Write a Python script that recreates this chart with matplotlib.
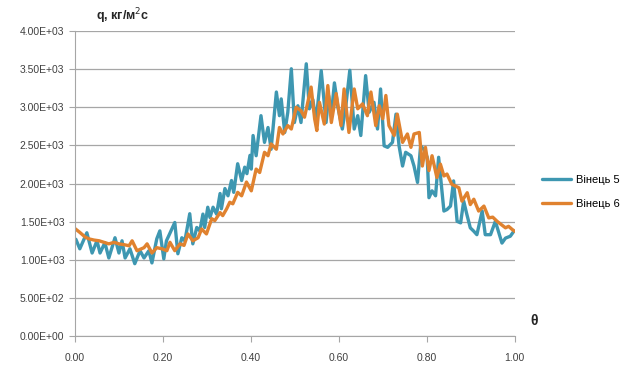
import matplotlib
matplotlib.use("Agg")
import matplotlib.pyplot as plt
from matplotlib.ticker import FuncFormatter, MultipleLocator

plt.rcParams['font.family'] = ['Liberation Sans', 'DejaVu Sans']

# Вінець 5 (blue)
theta5 = [0.002, 0.011, 0.027, 0.039, 0.050, 0.057, 0.068, 0.077, 0.091, 0.100,
          0.107, 0.114, 0.125, 0.136, 0.148, 0.157, 0.168, 0.175, 0.186, 0.193,
          0.202, 0.208, 0.216, 0.227, 0.234, 0.243, 0.250, 0.261, 0.268, 0.277,
          0.284, 0.291, 0.295, 0.302, 0.307, 0.314, 0.322, 0.330, 0.333, 0.341,
          0.348, 0.356, 0.361, 0.370, 0.379, 0.386, 0.391, 0.398, 0.401, 0.405,
          0.412, 0.423, 0.431, 0.439, 0.446, 0.458, 0.465, 0.469, 0.477, 0.484,
          0.492, 0.499, 0.507, 0.514, 0.526, 0.533, 0.541, 0.548, 0.560, 0.571,
          0.577, 0.583, 0.590, 0.598, 0.608, 0.616, 0.625, 0.635, 0.643, 0.650,
          0.661, 0.669, 0.680, 0.688, 0.695, 0.703, 0.711, 0.722, 0.730, 0.737,
          0.745, 0.752, 0.764, 0.771, 0.779, 0.786, 0.793, 0.801, 0.805, 0.812,
          0.820, 0.827, 0.839, 0.846, 0.854, 0.861, 0.869, 0.877, 0.884, 0.891,
          0.899, 0.907, 0.914, 0.926, 0.933, 0.945, 0.956, 0.971, 0.979, 0.990,
          0.998]
q5 = [1270, 1145, 1355, 1090, 1250, 1090, 1225, 1025, 1290, 1090,
      1250, 1025, 1145, 950, 1120, 1025, 1120, 960, 1275, 1380,
      1013, 1250, 1350, 1490, 1080, 1290, 1250, 1605, 1210, 1425,
      1380, 1600, 1425, 1690, 1555, 1690, 1600, 1870, 1670, 1935,
      1840, 2040, 1885, 2260, 2040, 2215, 2130, 2370, 2190, 2630,
      2365, 2890, 2540, 2735, 2450, 3200, 2890, 3110, 2670, 2935,
      3505, 2800, 3020, 2800, 3570, 2980, 3100, 2800, 3480, 2800,
      3150, 2900, 3320, 3000, 2715, 3020, 3485, 2715, 2890, 2630,
      3415, 2935, 3065, 2715, 3240, 2495, 2475, 2540, 2910, 2495,
      2230, 2410, 2365, 2230, 2015, 2495, 2450, 2345, 1815, 1905,
      1840, 2345, 1640, 1660, 1705, 2035, 1505, 1485, 1770, 1600,
      1420, 1375, 1330, 1640, 1330, 1330, 1505, 1220, 1285, 1310,
      1375]

# Вінець 6 (orange)
theta6 = [0.000, 0.011, 0.023, 0.032, 0.043, 0.055, 0.066, 0.077, 0.089, 0.100,
          0.111, 0.123, 0.130, 0.141, 0.157, 0.164, 0.175, 0.186, 0.198, 0.209,
          0.216, 0.227, 0.239, 0.248, 0.257, 0.268, 0.280, 0.288, 0.299, 0.311,
          0.318, 0.330, 0.336, 0.345, 0.352, 0.359, 0.370, 0.379, 0.390, 0.401,
          0.412, 0.420, 0.431, 0.439, 0.446, 0.458, 0.465, 0.473, 0.484, 0.492,
          0.503, 0.514, 0.522, 0.537, 0.545, 0.550, 0.556, 0.567, 0.575, 0.583,
          0.594, 0.605, 0.612, 0.623, 0.635, 0.643, 0.654, 0.665, 0.673, 0.684,
          0.692, 0.700, 0.707, 0.714, 0.726, 0.733, 0.745, 0.756, 0.764, 0.771,
          0.783, 0.790, 0.797, 0.805, 0.812, 0.823, 0.831, 0.839, 0.846, 0.857,
          0.873, 0.880, 0.892, 0.899, 0.907, 0.918, 0.930, 0.941, 0.950, 0.960,
          0.979, 0.986, 0.994, 1.000]
q6 = [1410, 1360, 1300, 1275, 1260, 1250, 1230, 1210, 1230, 1210,
      1200, 1185, 1250, 1120, 1160, 1210, 1090, 1160, 1145, 1120,
      1230, 1120, 1210, 1190, 1340, 1250, 1290, 1405, 1340, 1540,
      1515, 1620, 1580, 1670, 1755, 1735, 1885, 1840, 2020, 1905,
      2190, 2145, 2410, 2365, 2520, 2450, 2735, 2650, 2760, 2715,
      3000, 2955, 2870, 3265, 2850, 2695, 3065, 2780, 3285, 2800,
      3180, 2760, 3240, 2670, 3240, 2980, 3045, 2890, 3200, 2760,
      3020, 2850, 3155, 2760, 2630, 2910, 2540, 2650, 2475, 2650,
      2670, 2230, 2475, 2170, 2365, 2080, 2255, 2100, 2125, 1990,
      1945, 1770, 1880, 1725, 1795, 1640, 1705, 1550, 1560, 1505,
      1420, 1440, 1400, 1375]

fig = plt.figure(figsize=(6.3, 3.69), dpi=100)
ax = fig.add_axes([0.119, 0.089, 0.698, 0.827])

ax.plot(theta5, q5, color='#3e97b1', lw=2.4, label='Вінець 5',
        solid_joinstyle='round', solid_capstyle='round')
ax.plot(theta6, q6, color='#e0822f', lw=2.4, label='Вінець 6',
        solid_joinstyle='round', solid_capstyle='round')

ax.set_xlim(0, 1)
ax.set_ylim(0, 4000)
ax.xaxis.set_major_locator(MultipleLocator(0.2))
ax.yaxis.set_major_locator(MultipleLocator(500))
ax.xaxis.set_major_formatter(FuncFormatter(lambda v, p: f"{v:.2f}"))
ax.yaxis.set_major_formatter(FuncFormatter(lambda v, p: f"{v:.2E}"))
ax.grid(axis='y', color='#a6a6a6', lw=0.9)
ax.set_axisbelow(True)
for s in ['top', 'right']:
    ax.spines[s].set_visible(False)
for s in ['left', 'bottom']:
    ax.spines[s].set_color('#a6a6a6')
ax.tick_params(axis='both', colors='#a6a6a6', labelcolor='#404040',
               labelsize=7.5, length=4, direction='out')
ax.tick_params(axis='x', pad=8)

fig.text(0.152, 0.945, 'q, кг/м$^2$с', fontsize=9, fontweight='bold', color='#262626')
fig.text(0.842, 0.12, 'θ', fontsize=10, fontweight='bold', color='#262626')

fig.legend(loc='center left', bbox_to_anchor=(0.845, 0.48), frameon=False,
           fontsize=8, handlelength=2.6, labelspacing=1.2, handletextpad=0.4)

fig.savefig('out.png', dpi=100)
